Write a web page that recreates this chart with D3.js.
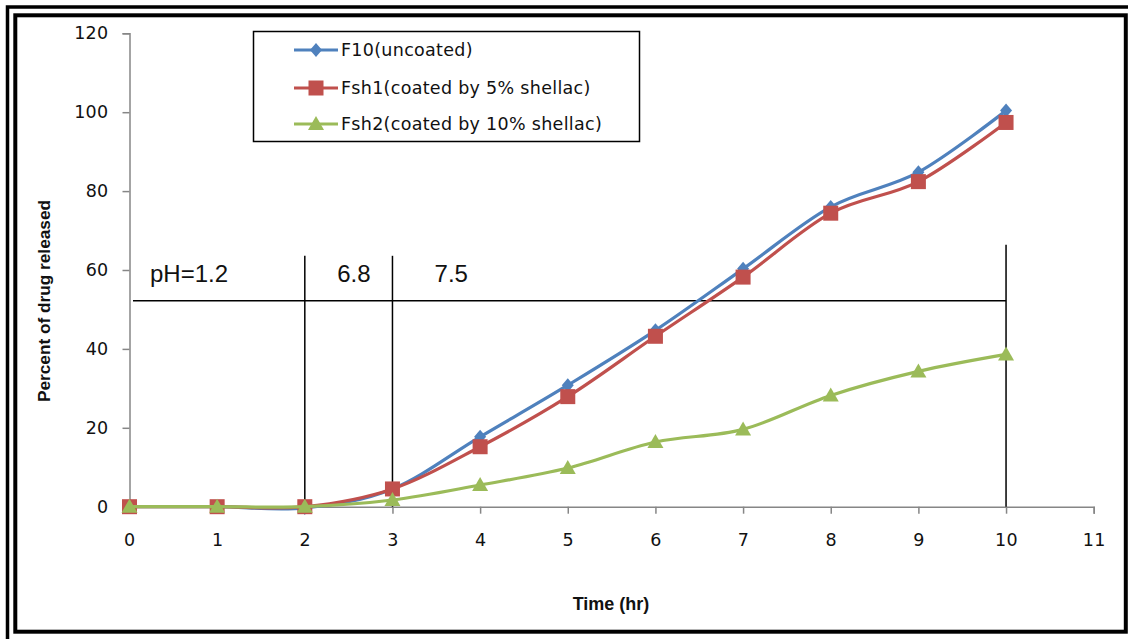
<!DOCTYPE html>
<html>
<head>
<meta charset="utf-8">
<script src="https://cdn.jsdelivr.net/npm/d3@7"></script>
<style>
  html, body { margin: 0; padding: 0; background: #fff; }
  svg { display: block; }
</style>
</head>
<body>
<svg id="chart" width="1128" height="639"></svg>
<script>
// ---------- data ----------
const hours = [0, 1, 2, 3, 4, 5, 6, 7, 8, 9, 10];
const f10  = [0, 0, -0.3, 4.5, 17.7, 30.8, 44.7, 60.3, 76.0, 84.8, 100.4];
const fsh1 = [0, 0, 0, 4.5, 15.2, 27.9, 43.2, 58.2, 74.4, 82.4, 97.4];
const fsh2 = [0, 0, 0, 1.7, 5.5, 9.8, 16.4, 19.6, 28.2, 34.3, 38.6];
const seriesNames = ["F10(uncoated)", "Fsh1(coated by 5% shellac)", "Fsh2(coated by 10% shellac)"];
const xTicks = [0, 1, 2, 3, 4, 5, 6, 7, 8, 9, 10, 11];
const yTicks = [0, 20, 40, 60, 80, 100, 120];
const xTitle = "Time (hr)";
const yTitle = "Percent of drug released";
// pH annotation (data coordinates)
const phBoundaryX = [2, 3, 10];
const phBoundaryTop = [63.6, 63.6, 66.4];
const phLineY = 52.2;
const phLineStart = 0.04;
const phLineEnd = 10;
const phLabels = ["pH=1.2", "6.8", "7.5"];
const phLabelX = [0.234, 2.37, 3.48];
const phLabelY = 57.0;

// ---------- layout ----------
const svg = d3.select("#chart");
const x = d3.scaleLinear().domain([0, 11]).range([129.5, 1093.7]);
const y = d3.scaleLinear().domain([0, 120]).range([506.7, 33.3]);

const colors = ["#4F81BD", "#C0504D", "#9BBB59"];
const axisColor = "#868686";
const tickFont = "DejaVu Sans, Verdana, sans-serif";
const tickSize = "17.5px";

// frame
svg.append("rect").attr("x", 7.5).attr("y", 7).attr("width", 1130).attr("height", 640)
  .attr("fill", "none").attr("stroke", "#000").attr("stroke-width", 3.5);
svg.append("rect").attr("x", 15.3).attr("y", 15.3).attr("width", 1110.5).attr("height", 616.4)
  .attr("fill", "none").attr("stroke", "#000").attr("stroke-width", 4);

// axes
const yAxis = d3.axisLeft(y).tickValues(yTicks).tickSize(7).tickPadding(14).tickFormat(d3.format("d"));
const gy = svg.append("g").attr("transform", `translate(${x(0)},0)`).call(yAxis);
const xAxis = d3.axisBottom(x).tickValues(xTicks.slice(1)).tickSize(7).tickPadding(20).tickFormat(d3.format("d"));
const gx = svg.append("g").attr("transform", `translate(0,${y(0)})`).call(xAxis);
[gx, gy].forEach(g => {
  g.select(".domain").attr("stroke", axisColor).attr("stroke-width", 1.5);
  g.selectAll(".tick line").attr("stroke", axisColor).attr("stroke-width", 1.5);
  g.selectAll(".tick text").attr("fill", "#111").style("font-family", tickFont)
    .style("font-size", tickSize).style("letter-spacing", "0.3px");
});
// the zero label on x axis (no tick mark)
svg.append("text").attr("x", x(0)).attr("y", y(0) + 39.5)
  .attr("text-anchor", "middle")
  .style("font-family", tickFont).style("font-size", tickSize).attr("fill", "#111")
  .text(xTicks[0]);

// axis titles
svg.append("text").attr("x", 611).attr("y", 610).attr("text-anchor", "middle")
  .style("font-family", "Liberation Sans, Arial, sans-serif").style("font-weight", "bold")
  .style("font-size", "18px").attr("fill", "#111").text(xTitle);
svg.append("text").attr("transform", "translate(50,301) rotate(-90)").attr("text-anchor", "middle")
  .style("font-family", "Liberation Sans, Arial, sans-serif").style("font-weight", "bold")
  .style("font-size", "17px").attr("fill", "#111")
  .attr("textLength", 202).attr("lengthAdjust", "spacingAndGlyphs").text(yTitle);

// pH annotation
const ann = svg.append("g").attr("stroke", "#000").attr("stroke-width", 1.5);
phBoundaryX.forEach((bx, i) => {
  ann.append("line").attr("x1", x(bx)).attr("x2", x(bx)).attr("y1", y(phBoundaryTop[i])).attr("y2", y(0));
});
ann.append("line").attr("x1", x(phLineStart)).attr("x2", x(phLineEnd)).attr("y1", y(phLineY)).attr("y2", y(phLineY));
phLabels.forEach((t, i) => {
  svg.append("text").attr("x", x(phLabelX[i])).attr("y", y(phLabelY))
    .style("font-family", "Liberation Sans, Arial, sans-serif").style("font-size", "24px")
    .attr("fill", "#111").text(t);
});

// series
const allSeries = [f10, fsh1, fsh2];
const line = d3.line().x((d, i) => x(hours[i])).y(d => y(d)).curve(d3.curveCardinal.tension(0));

function marker(g, type, cx, cy, color) {
  if (type === 0) {
    g.append("path").attr("d", `M${cx},${cy - 7}L${cx + 6},${cy}L${cx},${cy + 7}L${cx - 6},${cy}Z`).attr("fill", color);
  } else if (type === 1) {
    g.append("rect").attr("x", cx - 7.5).attr("y", cy - 7.5).attr("width", 15).attr("height", 15).attr("fill", color);
  } else {
    g.append("path").attr("d", `M${cx},${cy - 8}L${cx + 8},${cy + 6}L${cx - 8},${cy + 6}Z`).attr("fill", color);
  }
}

allSeries.forEach((vals, s) => {
  const g = svg.append("g");
  g.append("path").attr("d", line(vals)).attr("fill", "none")
    .attr("stroke", colors[s]).attr("stroke-width", 3.2).attr("stroke-linejoin", "round");
  vals.forEach((v, i) => marker(g, s, x(hours[i]), y(v), colors[s]));
});

// legend
const lg = svg.append("g");
lg.append("rect").attr("x", 253.5).attr("y", 31.5).attr("width", 386).attr("height", 110)
  .attr("fill", "#fff").attr("stroke", "#000").attr("stroke-width", 1.5);
const rowY = [50, 88, 124];
seriesNames.forEach((name, s) => {
  lg.append("line").attr("x1", 294).attr("x2", 338).attr("y1", rowY[s]).attr("y2", rowY[s])
    .attr("stroke", colors[s]).attr("stroke-width", 3);
  marker(lg, s, 316, rowY[s], colors[s]);
  lg.append("text").attr("x", 341).attr("y", rowY[s]).attr("dy", "0.36em")
    .style("font-family", tickFont).style("font-size", tickSize).style("letter-spacing", "0.3px")
    .attr("fill", "#111").text(name);
});
</script>
</body>
</html>
